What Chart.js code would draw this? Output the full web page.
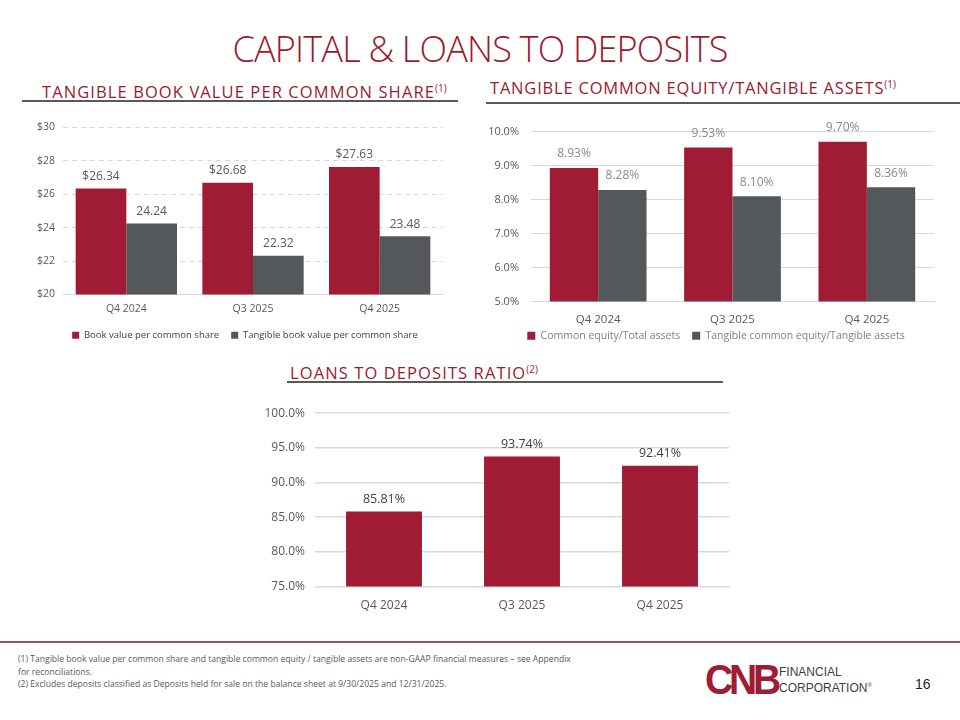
<!DOCTYPE html>
<html lang="en">
<head>
    <meta charset="UTF-8">
    <title>Capital & Loans to Deposits</title>
    <style>
        body {
            margin: 0;
            width: 960px;
            height: 720px;
            background: #fff;
            font-family: "Open Sans", "Noto Sans", sans-serif;
            position: relative;
            overflow: hidden;
        }
        .abs { position: absolute; }
        #title {
            left: 0; width: 960px; top: 24px;
            text-align: center;
            font-size: 36px;
            font-weight: 300;
            color: #9c1a30;
            letter-spacing: -0.8px;
        }
        .sub {
            font-size: 16.5px;
            color: #9c1a30;
            letter-spacing: 1.1px;
            white-space: nowrap;
        }
        .sub sup { font-size: 10px; letter-spacing: 0; }
        .rule { height: 2px; background: #595959; }
        .box { position: absolute; }
        #foot {
            left: 18px; top: 653px; width: 560px;
            font-size: 8.6px; color: #595959; line-height: 12.5px;
        }
        #sep { left: 0; top: 641px; width: 960px; height: 2px; background: #8c5a68; }
        #logo { left: 705px; top: 659px; }
        #cnb {
            font-family: "Liberation Sans", Arial, sans-serif;
            font-weight: 900; font-size: 42px; color: #a01c34;
            letter-spacing: -4.5px; display: inline-block;
            transform: scaleX(0.93); transform-origin: left center;
            line-height: 42px;
        }
        #fin {
            left: 779px; top: 666px;
            font-family: "Liberation Sans", Arial, sans-serif;
            font-size: 12px; color: #404040; line-height: 13px;
        }
        #page {
            left: 915px; top: 676px;
            font-family: "Liberation Sans", Arial, sans-serif;
            font-size: 14px; color: #222;
        }
    </style>
    <script src="https://cdn.jsdelivr.net/npm/chart.js"></script>
</head>
<body>
    <div id="title" class="abs">CAPITAL &amp; LOANS TO DEPOSITS</div>

    <div class="abs sub" style="left:42px; top:80px;">TANGIBLE BOOK VALUE PER COMMON SHARE<sup>(1)</sup></div>
    <div class="abs rule" style="left:22px; top:100px; width:436px;"></div>

    <div class="abs sub" style="left:490px; top:76px; letter-spacing:0.8px;">TANGIBLE COMMON EQUITY/TANGIBLE ASSETS<sup>(1)</sup></div>
    <div class="abs rule" style="left:486px; top:102px; width:474px;"></div>

    <div class="abs sub" style="left:290px; top:361px;">LOANS TO DEPOSITS RATIO<sup>(2)</sup></div>
    <div class="abs rule" style="left:287px; top:381px; width:436px;"></div>

    <div class="box" style="left:20px; top:113px; width:440px; height:237px;"><canvas id="bookChart"></canvas></div>
    <div class="box" style="left:470px; top:113px; width:480px; height:238px;"><canvas id="equityChart"></canvas></div>
    <div class="box" style="left:250px; top:396px; width:490px; height:229px;"><canvas id="loanChart"></canvas></div>

    <div id="sep" class="abs"></div>
    <div id="foot" class="abs">
        (1) Tangible book value per common share and tangible common equity / tangible assets are non-GAAP financial measures – see Appendix for reconciliations.<br>
        (2) Excludes deposits classified as Deposits held for sale on the balance sheet at 9/30/2025 and 12/31/2025.
    </div>
    <div id="logo" class="abs"><span id="cnb">CNB</span></div>
    <div id="fin" class="abs">FINANCIAL<br>CORPORATION<sup style="font-size:6px;">®</sup></div>
    <div id="page" class="abs">16</div>

    <script>
        const quarters = ['Q4 2024', 'Q3 2025', 'Q4 2025'];

        const bookValue = [26.34, 26.68, 27.63];
        const tangibleBookValue = [24.24, 22.32, 23.48];
        const bookTicks = [20, 22, 24, 26, 28, 30];

        const equityToAssets = [8.93, 9.53, 9.70];
        const tangibleEquityToAssets = [8.28, 8.10, 8.36];
        const equityTicks = [5, 6, 7, 8, 9, 10];

        const loansToDeposits = [85.81, 93.74, 92.41];
        const loanTicks = [75, 80, 85, 90, 95, 100];

        const RED = '#a01c34';
        const GRAY = '#54585a';
        const FONT = '"Open Sans", "Noto Sans", sans-serif';

        // draws the value over each bar, using the bar positions from the library
        const valueLabels = {
            id: 'valueLabels',
            afterDatasetsDraw(chart, args, opts) {
                const ctx = chart.ctx;
                ctx.save();
                ctx.font = `${opts.size}px ${FONT}`;
                ctx.fillStyle = opts.color;
                ctx.textAlign = 'center';
                ctx.textBaseline = 'bottom';
                chart.data.datasets.forEach((ds, i) => {
                    chart.getDatasetMeta(i).data.forEach((bar, j) => {
                        ctx.fillText(opts.format(ds.data[j], i), bar.x, bar.y - opts.offset);
                    });
                });
                ctx.restore();
            }
        };

        // axes are squeezed with afterFit; let their tick labels spill out instead of being clipped
        const labelRoom = {
            id: 'labelRoom',
            afterLayout(chart) {
                Object.values(chart.scales).forEach(s => {
                    if (s.isHorizontal()) s.bottom = chart.height;
                    else s.left = 0;
                });
            }
        };

        const fixedW = (w) => (scale) => { scale.width = w; };
        const fixedH = (h) => (scale) => { scale.height = h; };

        new Chart(document.getElementById('bookChart'), {
            type: 'bar',
            data: {
                labels: quarters,
                datasets: [
                    { label: 'Book value per common share', data: bookValue, backgroundColor: RED },
                    { label: 'Tangible book value per common share', data: tangibleBookValue, backgroundColor: GRAY }
                ]
            },
            plugins: [valueLabels, labelRoom],
            options: {
                responsive: true,
                maintainAspectRatio: false,
                animation: false,
                categoryPercentage: 0.8,
                barPercentage: 1.0,
                layout: { padding: { top: 10, right: 17, left: 27 } },
                scales: {
                    x: {
                        afterFit: fixedH(24),
                        grid: { display: false, drawTicks: false },
                        border: { color: '#d9d9d9' },
                        ticks: { color: '#595959', font: { family: FONT, size: 10.5 }, padding: 8 }
                    },
                    y: {
                        min: 20, max: 30,
                        afterFit: fixedW(16),
                        afterBuildTicks: (s) => { s.ticks = bookTicks.map(v => ({ value: v })); },
                        grid: { color: '#d9d9d9', drawTicks: false },
                        border: { display: false, dash: [5, 4] },
                        ticks: { color: '#595959', font: { family: FONT, size: 10.5 }, padding: 8, callback: v => '$' + v }
                    }
                },
                plugins: {
                    legend: {
                        position: 'bottom',
                        labels: { boxWidth: 7, boxHeight: 7, padding: 12, color: '#404040', font: { family: FONT, size: 9.5 } }
                    },
                    tooltip: { enabled: false },
                    valueLabels: {
                        size: 12, color: '#595959', offset: 6,
                        format: (v, i) => (i === 0 ? '$' : '') + v.toFixed(2)
                    }
                }
            }
        });

        new Chart(document.getElementById('equityChart'), {
            type: 'bar',
            data: {
                labels: quarters,
                datasets: [
                    { label: 'Common equity/Total assets', data: equityToAssets, backgroundColor: RED },
                    { label: 'Tangible common equity/Tangible assets', data: tangibleEquityToAssets, backgroundColor: GRAY }
                ]
            },
            plugins: [valueLabels, labelRoom],
            options: {
                responsive: true,
                maintainAspectRatio: false,
                animation: false,
                categoryPercentage: 0.72,
                barPercentage: 1.0,
                layout: { padding: { top: 10, right: 16, left: 28 } },
                scales: {
                    x: {
                        afterFit: fixedH(17),
                        grid: { display: false, drawTicks: false },
                        border: { color: '#d9d9d9' },
                        ticks: { color: '#595959', font: { family: FONT, size: 11.5 }, padding: 11 }
                    },
                    y: {
                        min: 5, max: 10,
                        afterFit: fixedW(33),
                        afterBuildTicks: (s) => { s.ticks = equityTicks.map(v => ({ value: v })); },
                        grid: { color: '#d9d9d9', drawTicks: false },
                        border: { display: false },
                        ticks: { color: '#595959', font: { family: FONT, size: 11 }, padding: 12, callback: v => v.toFixed(1) + '%' }
                    }
                },
                plugins: {
                    legend: {
                        position: 'bottom',
                        labels: { boxWidth: 8, boxHeight: 8, padding: 12, color: '#7f7f7f', font: { family: FONT, size: 10.5 } }
                    },
                    tooltip: { enabled: false },
                    valueLabels: {
                        size: 12, color: '#8a8a8a', offset: 8,
                        format: (v) => v.toFixed(2) + '%'
                    }
                }
            }
        });

        new Chart(document.getElementById('loanChart'), {
            type: 'bar',
            data: {
                labels: quarters,
                datasets: [
                    { label: 'Loans to deposits ratio', data: loansToDeposits, backgroundColor: RED }
                ]
            },
            plugins: [valueLabels],
            options: {
                responsive: true,
                maintainAspectRatio: false,
                animation: false,
                categoryPercentage: 0.55,
                barPercentage: 1.0,
                layout: { padding: { top: 10, right: 11 } },
                scales: {
                    x: {
                        grid: { display: false, drawTicks: false },
                        border: { color: '#d9d9d9' },
                        ticks: { color: '#595959', font: { family: FONT, size: 12 }, padding: 12 }
                    },
                    y: {
                        min: 75, max: 100,
                        afterFit: fixedW(65),
                        afterBuildTicks: (s) => { s.ticks = loanTicks.map(v => ({ value: v })); },
                        grid: { color: '#d9d9d9', drawTicks: false, lineWidth: 1.5 },
                        border: { display: false },
                        ticks: { color: '#595959', font: { family: FONT, size: 12 }, padding: 10, callback: v => v.toFixed(1) + '%' }
                    }
                },
                plugins: {
                    legend: { display: false },
                    tooltip: { enabled: false },
                    valueLabels: {
                        size: 12.5, color: '#404040', offset: 6,
                        format: (v) => v.toFixed(2) + '%'
                    }
                }
            }
        });
    </script>
</body>
</html>
